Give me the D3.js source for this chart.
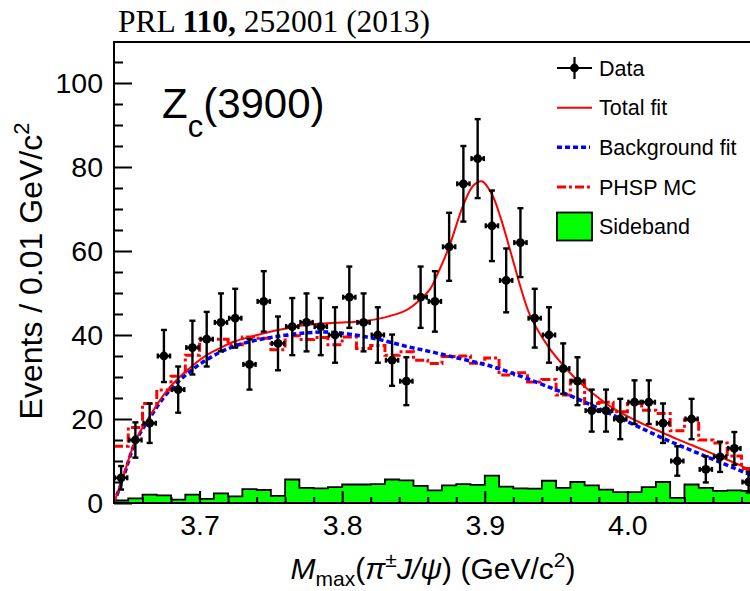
<!DOCTYPE html>
<html>
<head>
<meta charset="utf-8">
<script src="https://cdn.jsdelivr.net/npm/d3@7"></script>
<style>
  body { margin: 0; background: #fff; }
  svg { display: block; font-family: "Liberation Sans", Arial, Helvetica, sans-serif; }
</style>
</head>
<body>
<svg id="chart" width="750" height="591"></svg>
<script>
// histogram binning (GeV/c^2)
var binLo = 3.64, binW = 0.01;

// data counts per 0.01 GeV bin, and their error bars
var counts = [6, 15, 19, 35, 27, 37, 39, 43, 44, 33, 48, 38, 42, 43, 42, 40, 49, 43, 40, 34, 29, 49, 48,
  61, 76, 82, 66, 53, 62, 44, 40, 32, 29, 22, 22, 20, 24, 24, 19, 10, 20, 8, 11, 13, 5];
var errs = [2.8, 4.2, 4.7, 6.2, 5.5, 6.4, 6.5, 6.9, 7.0, 6.0, 7.2, 6.4, 6.8, 6.9, 6.8, 6.6, 7.3, 6.9, 6.6, 6.1, 5.7, 7.3, 7.2,
  8.1, 9.0, 9.4, 8.4, 7.6, 8.2, 7.0, 6.6, 6.0, 5.7, 5.0, 5.0, 4.8, 5.2, 5.2, 4.7, 3.5, 4.8, 3.1, 3.6, 3.9, 2.5];

// sideband histogram (green)
var sideband = [0.6, 1.1, 2.0, 1.8, 0.8, 2.0, 1.0, 2.3, 1.6, 3.3, 3.1, 1.7, 5.6, 3.6, 3.5, 3.8, 4.4, 4.4, 4.5, 5.6, 5.4, 4.1, 3.0,
  4.2, 4.5, 4.3, 6.5, 3.9, 3.5, 3.4, 5.3, 3.6, 5.0, 4.2, 3.2, 2.6, 2.6, 3.8, 5.0, 1.2, 4.4, 3.6, 2.9, 3.0, 2.9];

// PHSP MC histogram (red dash-dot)
var phsp = [13.5, 18, 23.7, 26.9, 30.2, 35.2, 39, 39, 37.7, 39.5, 39.2, 36.5, 39.8, 38.9, 39.4, 37.7, 39.5, 36.8, 37.5, 35.2, 36.0, 34.0, 33.2,
  34.9, 35.0, 33.3, 34.5, 30.5, 31.0, 28.8, 29.4, 25.7, 29.2, 23.7, 24.0, 21.7, 23.7, 22.1, 21.3, 17.2, 19.8, 15.0, 14.3, 11.2, 8.2];

// total fit curve
var fitX = [3.640, 3.646, 3.655, 3.665, 3.675, 3.685, 3.695, 3.705, 3.715, 3.725, 3.735, 3.755, 3.775, 3.795, 3.815, 3.830,
  3.845, 3.855, 3.862, 3.8655, 3.875, 3.885, 3.892, 3.898, 3.905, 3.911, 3.915, 3.920, 3.925, 3.932, 3.945, 3.955, 3.965,
  3.975, 3.985, 3.995, 4.005, 4.015, 4.025, 4.035, 4.045, 4.055, 4.065, 4.075, 4.085, 4.095];
var fitY = [0, 5.8, 14.8, 20.6, 25.8, 29.7, 32.7, 35.2, 37.0, 38.5, 39.5, 41.2, 42.4, 42.9, 43.3, 44.2,
  45.9, 48.5, 51.1, 53.5, 61.0, 71.0, 75.6, 76.6, 73.5, 68.0, 63.5, 57.5, 51.5, 44.5, 37.0, 32.8, 29.2,
  26.3, 23.7, 21.6, 19.8, 18.2, 16.7, 15.2, 13.8, 12.4, 11.0, 9.6, 8.0, 6.4];

// background fit curve
var bkgX = [3.640, 3.646, 3.655, 3.665, 3.675, 3.685, 3.695, 3.705, 3.715, 3.725, 3.735, 3.755, 3.775, 3.790, 3.805,
  3.825, 3.845, 3.865, 3.885, 3.905, 3.925, 3.945, 3.965, 3.985, 4.005, 4.025, 4.045, 4.065, 4.085, 4.095];
var bkgY = [0, 5.5, 14.5, 20.2, 25.2, 28.9, 31.8, 34.1, 36.0, 37.4, 38.4, 39.7, 40.5, 40.7, 40.2,
  39.0, 37.3, 35.8, 34.2, 32.5, 30.2, 27.6, 24.8, 21.7, 18.6, 15.4, 12.5, 9.7, 6.9, 5.5];

var xTicks = [3.7, 3.8, 3.9, 4.0];
var yTicks = [0, 20, 40, 60, 80, 100];
var legendLabels = ["Data", "Total fit", "Background fit", "PHSP MC", "Sideband"];

var svg = d3.select("#chart");
var x = d3.scaleLinear().domain([3.64, 4.10]).range([114, 770]);
var y = d3.scaleLinear().domain([0, 110]).range([503, 41]);

svg.append("clipPath").attr("id", "frame")
  .append("rect").attr("x", 114).attr("y", 42).attr("width", 656).attr("height", 461);

// header
svg.append("text").attr("x", 118).attr("y", 32)
  .style("font-family", "'Liberation Serif', 'Times New Roman', serif").style("font-size", "31.5px")
  .call(function (t) {
    t.append("tspan").text("PRL ");
    t.append("tspan").style("font-weight", "bold").text("110,");
    t.append("tspan").text(" 252001 (2013)");
  });

var plot = svg.append("g").attr("clip-path", "url(#frame)");

function steps(vals) {
  var pts = [];
  vals.forEach(function (v, i) {
    var lo = binLo + i * binW;
    pts.push([lo, v]);
    pts.push([lo + binW, v]);
  });
  return pts;
}

// sideband
var sbPts = steps(sideband);
plot.append("path").datum(sbPts)
  .attr("fill", "#00ff00")
  .attr("d", d3.area().x(function (d) { return x(d[0]); }).y0(y(0)).y1(function (d) { return y(d[1]); }));
plot.append("path").datum(sbPts)
  .attr("fill", "none").attr("stroke", "#000").attr("stroke-width", 1.8)
  .attr("d", d3.line().x(function (d) { return x(d[0]); }).y(function (d) { return y(d[1]); }));

// axes (ticks inside frame)
svg.append("g").attr("transform", "translate(114,0)")
  .call(d3.axisLeft(y).tickValues(yTicks).tickSize(-18).tickPadding(11));
svg.append("g").attr("transform", "translate(114,0)")
  .call(d3.axisLeft(y).tickValues(d3.range(5, 110, 5).filter(function (v) { return v % 20 !== 0; }))
    .tickSize(-9).tickFormat(""));
svg.append("g").attr("transform", "translate(0,503)")
  .call(d3.axisBottom(x).tickValues(xTicks).tickSize(-12).tickPadding(12).tickFormat(d3.format(".1f")));
svg.append("g").attr("transform", "translate(0,503)")
  .call(d3.axisBottom(x).tickValues(d3.range(3.66, 4.1, 0.02).filter(function (v) {
    return Math.abs(Math.round(v * 10) - v * 10) > 0.01;
  })).tickSize(-6).tickFormat(""));
svg.selectAll(".domain").remove();
svg.selectAll(".tick line").attr("stroke", "#000").attr("stroke-width", 2);
svg.selectAll(".tick text").attr("fill", "#000").style("font-size", "28.5px")
  .style("font-family", "'Liberation Sans', Arial, sans-serif");

// PHSP MC
plot.append("path").datum(steps(phsp))
  .attr("fill", "none").attr("stroke", "#ff0000").attr("stroke-width", 3)
  .attr("stroke-dasharray", "9,3,3,3")
  .attr("d", d3.line().x(function (d) { return x(d[0]); }).y(function (d) { return y(d[1]); }));

// background fit
plot.append("path").datum(d3.zip(bkgX, bkgY))
  .attr("fill", "none").attr("stroke", "#0000ff").attr("stroke-width", 3.5)
  .attr("stroke-dasharray", "5,3")
  .attr("d", d3.line().curve(d3.curveCatmullRom.alpha(0.5))
    .x(function (d) { return x(d[0]); }).y(function (d) { return y(d[1]); }));

// total fit
plot.append("path").datum(d3.zip(fitX, fitY))
  .attr("fill", "none").attr("stroke", "#ff0000").attr("stroke-width", 2)
  .attr("d", d3.line().curve(d3.curveCatmullRom.alpha(0.5))
    .x(function (d) { return x(d[0]); }).y(function (d) { return y(d[1]); }));

// data points
var pts = plot.append("g").attr("stroke", "#000").attr("stroke-width", 2.4)
  .selectAll("g").data(counts).enter().append("g");
function cx(i) { return x(binLo + (i + 0.5) * binW); }
pts.append("line")
  .attr("x1", function (d, i) { return cx(i); }).attr("x2", function (d, i) { return cx(i); })
  .attr("y1", function (d, i) { return y(d - errs[i]); }).attr("y2", function (d, i) { return y(d + errs[i]); });
pts.append("line")
  .attr("x1", function (d, i) { return x(binLo + i * binW) + 1; })
  .attr("x2", function (d, i) { return x(binLo + (i + 1) * binW) - 1; })
  .attr("y1", function (d) { return y(d); }).attr("y2", function (d) { return y(d); });
[-1, 1].forEach(function (s) {
  pts.append("line")
    .attr("x1", function (d, i) { return cx(i) - 3; }).attr("x2", function (d, i) { return cx(i) + 3; })
    .attr("y1", function (d, i) { return y(d + s * errs[i]); }).attr("y2", function (d, i) { return y(d + s * errs[i]); });
  pts.append("line")
    .attr("x1", function (d, i) { return s < 0 ? x(binLo + i * binW) + 1 : x(binLo + (i + 1) * binW) - 1; })
    .attr("x2", function (d, i) { return s < 0 ? x(binLo + i * binW) + 1 : x(binLo + (i + 1) * binW) - 1; })
    .attr("y1", function (d) { return y(d) - 2.5; }).attr("y2", function (d) { return y(d) + 2.5; });
});
pts.append("circle")
  .attr("cx", function (d, i) { return cx(i); }).attr("cy", function (d) { return y(d); })
  .attr("r", 4.4).attr("fill", "#000").attr("stroke", "none");

// frame
svg.append("rect").attr("x", 114).attr("y", 42).attr("width", 656).attr("height", 461)
  .attr("fill", "none").attr("stroke", "#000").attr("stroke-width", 2);

// Zc(3900) label
svg.append("text").attr("x", 162).attr("y", 118).style("font-size", "42px")
  .call(function (t) {
    t.append("tspan").text("Z");
    t.append("tspan").attr("dy", 19).style("font-size", "31px").text("c");
    t.append("tspan").attr("dy", -19).text("(3900)");
  });

// legend
var lg = svg.append("g").style("font-size", "21.5px");
var rowY = d3.scaleLinear().domain([0, 4]).range([68, 226.5]);
legendLabels.forEach(function (lab, i) {
  lg.append("text").attr("x", 599).attr("y", rowY(i)).attr("dy", "0.36em").text(lab);
});
var r0 = rowY(0);
lg.append("line").attr("x1", 557).attr("x2", 592).attr("y1", r0).attr("y2", r0).attr("stroke", "#000").attr("stroke-width", 2.2);
lg.append("line").attr("x1", 574.5).attr("x2", 574.5).attr("y1", r0 - 11).attr("y2", r0 + 11).attr("stroke", "#000").attr("stroke-width", 2.2);
lg.append("circle").attr("cx", 574.5).attr("cy", r0).attr("r", 4.4).attr("fill", "#000");
lg.append("line").attr("x1", 557).attr("x2", 592).attr("y1", rowY(1)).attr("y2", rowY(1))
  .attr("stroke", "#ff0000").attr("stroke-width", 2);
lg.append("line").attr("x1", 557).attr("x2", 590).attr("y1", rowY(2)).attr("y2", rowY(2))
  .attr("stroke", "#0000ff").attr("stroke-width", 3.5).attr("stroke-dasharray", "5,3");
lg.append("line").attr("x1", 557).attr("x2", 590).attr("y1", rowY(3)).attr("y2", rowY(3))
  .attr("stroke", "#ff0000").attr("stroke-width", 3).attr("stroke-dasharray", "9,3,3,3");
lg.append("rect").attr("x", 557).attr("y", rowY(4) - 14).attr("width", 35).attr("height", 28)
  .attr("fill", "#00ff00").attr("stroke", "#000").attr("stroke-width", 1.8);

// axis titles
svg.append("text").attr("transform", "translate(42,271) rotate(-90)")
  .attr("text-anchor", "middle").style("font-size", "32px")
  .call(function (t) {
    t.append("tspan").text("Events / 0.01 GeV/c");
    t.append("tspan").attr("dy", -13).style("font-size", "22px").text("2");
  });

svg.append("text").attr("x", 433).attr("y", 579).attr("text-anchor", "middle").style("font-size", "30px")
  .call(function (t) {
    t.append("tspan").style("font-style", "italic").text("M");
    t.append("tspan").attr("dy", 7).style("font-size", "21px").text("max");
    t.append("tspan").attr("dy", -7).text("(");
    t.append("tspan").style("font-style", "italic").text("π");
    t.append("tspan").attr("dy", -12).style("font-size", "21px").text("±");
    t.append("tspan").attr("dy", 12).style("font-style", "italic").text("J/ψ");
    t.append("tspan").text(") (GeV/c");
    t.append("tspan").attr("dy", -12).style("font-size", "21px").text("2");
    t.append("tspan").attr("dy", 12).text(")");
  });
</script>
</body>
</html>
